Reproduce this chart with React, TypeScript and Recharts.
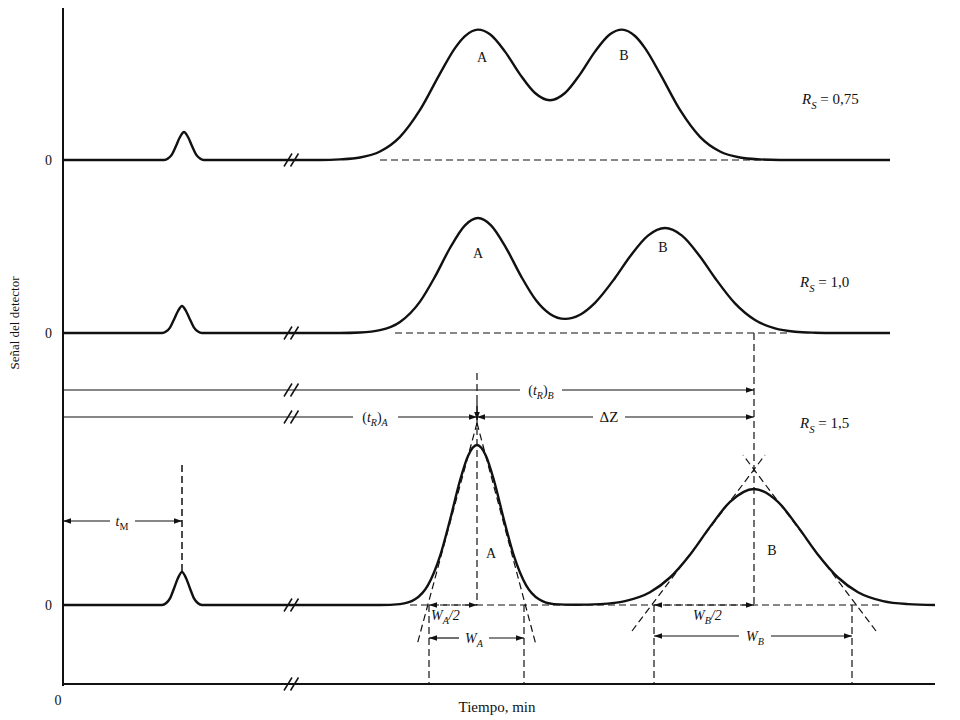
import React from 'react';
import { ComposedChart, Line, XAxis, YAxis, ReferenceLine, ReferenceDot } from 'recharts';

const FONT = '"Liberation Serif", "Times New Roman", "DejaVu Serif", serif';
const INK = '#111';

// Baseline (zero signal) of each stacked chromatogram, in signal units
const BASE_TOP = 52.6;
const BASE_MID = 35.3;
const BASE_BOT = 8.1;

// Top chromatogram (Rs = 0,75): time, signal above baseline
const TOP_T = [0, 10.1, 10.5, 10.9, 11.3, 11.7, 12.1, 12.5, 12.9, 13.3, 13.7, 14.1, 25.7,
  27.7, 29.7, 31.7, 33.7, 35.7, 37.7, 39.2, 40.2, 41.5, 42.7, 44.2, 45.7, 47.2, 48.7, 50.2,
  51.7, 53.2, 54.7, 55.9, 57.2, 58.2, 59.7, 61.7, 63.7, 65.7, 67.7, 69.7, 71.7, 82.7];
const TOP_S = [0, 0, 0.14, 0.56, 1.4, 2.3, 2.8, 2.3, 1.4, 0.56, 0.14, 0, 0,
  0.06, 0.25, 0.85, 2.32, 5.01, 8.64, 11.19, 12.39, 13.04, 12.57, 10.84, 8.56, 6.7, 5.98, 6.7,
  8.56, 10.84, 12.57, 13.04, 12.4, 11.19, 8.64, 5.01, 2.32, 0.85, 0.25, 0.06, 0, 0];

// Middle chromatogram (Rs = 1,0)
const MID_T = [0, 9.9, 10.3, 10.7, 11.1, 11.5, 11.9, 12.3, 12.7, 13.1, 13.5, 13.9, 27.7,
  29.7, 31.7, 33.7, 35.7, 37.2, 38.7, 40.2, 41.5, 42.8, 44.3, 45.8, 47.3, 48.7, 50.2, 51.7,
  53.2, 55.2, 56.7, 58.5, 60.2, 61.9, 63.7, 65.2, 67.2, 69.2, 71.2, 73.2, 75.2, 77.2, 82.7];
const MID_S = [0, 0, 0.14, 0.54, 1.35, 2.2, 2.7, 2.2, 1.35, 0.54, 0.14, 0, 0,
  0.05, 0.28, 1.1, 3.14, 5.64, 8.5, 10.77, 11.5, 10.77, 8.52, 5.69, 3.28, 1.91, 1.41, 1.83,
  3.02, 5.5, 7.65, 9.74, 10.5, 9.74, 7.65, 5.5, 2.96, 1.3, 0.46, 0.13, 0.03, 0, 0];

// Bottom chromatogram (Rs = 1,5)
const BOT_T = [0, 9.9, 10.3, 10.7, 11.1, 11.5, 11.9, 12.3, 12.7, 13.1, 13.5, 13.9, 31.7,
  33.7, 35.2, 36.5, 37.7, 38.7, 39.7, 40.5, 41.4, 42.3, 43.1, 44.1, 45.1, 46.3, 47.6, 49.1,
  51.2, 53.7, 56.2, 58.7, 60.7, 62.7, 64.7, 66.7, 69.1, 71.5, 73.5, 75.5, 77.5, 79.5, 82.0,
  84.5, 87.2];
const BOT_S = [0, 0, 0.17, 0.66, 1.65, 2.7, 3.3, 2.7, 1.65, 0.66, 0.17, 0, 0,
  0.09, 0.57, 1.99, 4.88, 8.5, 12.45, 14.91, 16.0, 14.91, 12.45, 8.5, 4.88, 1.99, 0.57, 0.09,
  0.02, 0.09, 0.39, 1.28, 2.75, 5.03, 7.81, 10.31, 11.6, 10.31, 7.81, 5.03, 2.75, 1.28, 0.39,
  0.09, 0];

// Characteristic times
const T_M = 11.9;
const T_RA = 41.4;
const T_RB = 69.1;
const WA_LEFT = 36.6;
const WA_RIGHT = 46.1;
const WB_LEFT = 59.1;
const WB_RIGHT = 78.9;
const BREAK_T = 22.8;

const toSeries = (ts: number[], ss: number[], base: number) =>
  ts.map((t, i) => ({ t, v: base + ss[i] }));

const topData = toSeries(TOP_T, TOP_S, BASE_TOP);
const midData = toSeries(MID_T, MID_S, BASE_MID);
const botData = toSeries(BOT_T, BOT_S, BASE_BOT);

type Seg = { a: [number, number]; b: [number, number]; dashed?: boolean; start?: boolean; end?: boolean; w?: number };

const AXIS_Y = 0.2;
const Y_TRB = 29.6;
const Y_TRA = 26.9;
const Y_TM = 16.5;

const SEGMENTS: Seg[] = [
  // time axis
  { a: [0, AXIS_Y], b: [87.2, AXIS_Y], w: 1.8 },
  // t_M
  { a: [0, Y_TM], b: [4.7, Y_TM], start: true },
  { a: [7.2, Y_TM], b: [T_M, Y_TM], end: true },
  { a: [T_M, 22.1], b: [T_M, 11.3], dashed: true, w: 1.5 },
  // (t_R)_B
  { a: [0, Y_TRB], b: [45.7, Y_TRB] },
  { a: [49.9, Y_TRB], b: [T_RB, Y_TRB], end: true },
  // (t_R)_A
  { a: [0, Y_TRA], b: [29.0, Y_TRA] },
  { a: [33.5, Y_TRA], b: [T_RA, Y_TRA], end: true },
  // ΔZ
  { a: [T_RA, Y_TRA], b: [53.0, Y_TRA], start: true },
  { a: [56.2, Y_TRA], b: [T_RB, Y_TRA], end: true },
  // vertical markers
  { a: [T_RA, 31.3], b: [T_RA, BASE_BOT], dashed: true },
  { a: [T_RA, 28.4], b: [T_RA, 26.6], end: true },
  { a: [T_RB, BASE_MID], b: [T_RB, BASE_BOT], dashed: true },
  // dashed baselines
  { a: [31.7, BASE_TOP], b: [70.7, BASE_TOP], dashed: true },
  { a: [33.2, BASE_MID], b: [72.7, BASE_MID], dashed: true },
  { a: [34.7, BASE_BOT], b: [81.7, BASE_BOT], dashed: true },
  // tangents peak A
  { a: [T_RA, 26.3], b: [35.4, 4.1], dashed: true },
  { a: [T_RA, 26.3], b: [47.3, 4.1], dashed: true },
  // tangents peak B
  { a: [56.9, 5.5], b: [70.2, 23.1], dashed: true },
  { a: [81.3, 5.5], b: [68.0, 23.1], dashed: true },
  // width drops
  { a: [WA_LEFT, BASE_BOT], b: [WA_LEFT, AXIS_Y], dashed: true },
  { a: [WA_RIGHT, BASE_BOT], b: [WA_RIGHT, AXIS_Y], dashed: true },
  { a: [WB_LEFT, BASE_BOT], b: [WB_LEFT, AXIS_Y], dashed: true },
  { a: [WB_RIGHT, BASE_BOT], b: [WB_RIGHT, AXIS_Y], dashed: true },
  // W arrows
  { a: [WA_LEFT, 4.8], b: [39.6, 4.8], start: true },
  { a: [42.6, 4.8], b: [WA_RIGHT, 4.8], end: true },
  { a: [WB_LEFT, 5.0], b: [67.6, 5.0], start: true },
  { a: [70.8, 5.0], b: [WB_RIGHT, 5.0], end: true },
  // half widths
  { a: [WA_LEFT, BASE_BOT], b: [T_RA, BASE_BOT], start: true, end: true, dashed: true },
  { a: [WB_LEFT, BASE_BOT], b: [T_RB, BASE_BOT], start: true, end: true, dashed: true },
];

const BREAK_YS = [BASE_TOP, BASE_MID, Y_TRB, Y_TRA, BASE_BOT, AXIS_Y];

type Part = { s: string; i?: boolean; sub?: boolean };
type Lab = { t: number; y: number; parts: Part[]; size?: number; anchor?: 'start' | 'middle' | 'end'; rotate?: number };

const LABELS: Lab[] = [
  { t: -0.5, y: -1.4, parts: [{ s: '0' }], size: 14 },
  { t: 43.4, y: -2.1, parts: [{ s: 'Tiempo, min' }], size: 15 },
  { t: -4.9, y: 36.3, parts: [{ s: 'Señal del detector' }], size: 13, rotate: -90 },
  { t: 5.9, y: Y_TM, parts: [{ s: 't', i: true }, { s: 'M', sub: true }] },
  { t: 47.8, y: Y_TRB, parts: [{ s: '(' }, { s: 't', i: true }, { s: 'R', i: true, sub: true }, { s: ')' }, { s: 'B', i: true, sub: true }] },
  { t: 31.2, y: Y_TRA, parts: [{ s: '(' }, { s: 't', i: true }, { s: 'R', i: true, sub: true }, { s: ')' }, { s: 'A', i: true, sub: true }] },
  { t: 54.6, y: Y_TRA, parts: [{ s: 'ΔZ' }], size: 15 },
  { t: 73.9, y: 58.7, parts: [{ s: 'R', i: true }, { s: 'S', i: true, sub: true }, { s: ' = 0,75' }], size: 15, anchor: 'start' },
  { t: 73.7, y: 40.4, parts: [{ s: 'R', i: true }, { s: 'S', i: true, sub: true }, { s: ' = 1,0' }], size: 15, anchor: 'start' },
  { t: 73.7, y: 26.3, parts: [{ s: 'R', i: true }, { s: 'S', i: true, sub: true }, { s: ' = 1,5' }], size: 15, anchor: 'start' },
  { t: 41.9, y: 62.9, parts: [{ s: 'A' }] },
  { t: 56.1, y: 63.1, parts: [{ s: 'B' }] },
  { t: 41.5, y: 43.3, parts: [{ s: 'A' }] },
  { t: 60.0, y: 43.9, parts: [{ s: 'B' }] },
  { t: 42.8, y: 13.3, parts: [{ s: 'A' }] },
  { t: 70.9, y: 13.6, parts: [{ s: 'B' }] },
  { t: 36.8, y: 7.1, parts: [{ s: 'W', i: true }, { s: 'A', i: true, sub: true }, { s: '/2', i: true }], anchor: 'start' },
  { t: 63.0, y: 7.1, parts: [{ s: 'W', i: true }, { s: 'B', i: true, sub: true }, { s: '/2', i: true }], anchor: 'start' },
  { t: 41.1, y: 4.8, parts: [{ s: 'W', i: true }, { s: 'A', i: true, sub: true }] },
  { t: 69.2, y: 5.0, parts: [{ s: 'W', i: true }, { s: 'B', i: true, sub: true }] },
];

const head = (x: number, y: number, dx: number, dy: number, key: string) => {
  const L = 8;
  const W = 2.8;
  const bx = x - dx * L;
  const by = y - dy * L;
  return (
    <polygon
      key={key}
      points={`${x},${y} ${bx - dy * W},${by + dx * W} ${bx + dy * W},${by - dx * W}`}
      fill={INK}
    />
  );
};

const segShape = (seg: Seg) => (p: any) => {
  const x1 = Number(p.x1);
  const y1 = Number(p.y1);
  const x2 = Number(p.x2);
  const y2 = Number(p.y2);
  const len = Math.hypot(x2 - x1, y2 - y1) || 1;
  const ux = (x2 - x1) / len;
  const uy = (y2 - y1) / len;
  return (
    <g>
      <line
        x1={x1}
        y1={y1}
        x2={x2}
        y2={y2}
        stroke={INK}
        strokeWidth={seg.w ?? 1.2}
        strokeDasharray={seg.dashed ? '7 4' : undefined}
      />
      {seg.end ? head(x2, y2, ux, uy, 'e') : null}
      {seg.start ? head(x1, y1, -ux, -uy, 's') : null}
    </g>
  );
};

const richShape = (lab: Lab) => (p: any) => {
  const size = lab.size ?? 14;
  let shift = 0;
  const spans = lab.parts.map((part, k) => {
    const target = part.sub ? size * 0.3 : 0;
    const dy = target - shift;
    shift = target;
    return (
      <tspan
        key={k}
        dy={dy}
        fontStyle={part.i ? 'italic' : 'normal'}
        fontSize={part.sub ? size * 0.72 : size}
      >
        {part.s}
      </tspan>
    );
  });
  const cx = Number(p.cx);
  const cy = Number(p.cy);
  return (
    <text
      x={cx}
      y={cy + size * 0.35}
      textAnchor={lab.anchor ?? 'middle'}
      fontFamily={FONT}
      fontSize={size}
      fill={INK}
      transform={lab.rotate ? `rotate(${lab.rotate}, ${cx}, ${cy})` : undefined}
    >
      {spans}
    </text>
  );
};

const breakShape = (p: any) => (
  <line x1={p.x1} y1={p.y1} x2={p.x2} y2={p.y2} stroke={INK} strokeWidth={1.5} />
);

export default function App() {
  return (
    <ComposedChart width={944} height={712} margin={{ top: 0, right: 9, bottom: 34, left: 0 }}>
      <XAxis type="number" dataKey="t" domain={[0, 88]} hide allowDataOverflow />
      <YAxis
        type="number"
        domain={[0, 67.8]}
        ticks={[BASE_BOT, BASE_MID, BASE_TOP]}
        tickFormatter={() => '0'}
        tickLine={false}
        tickSize={6}
        tickMargin={5}
        axisLine={{ stroke: INK, strokeWidth: 2 }}
        tick={{ fill: INK, fontSize: 14, fontFamily: FONT }}
        width={55}
        allowDataOverflow
      />
      {SEGMENTS.map((seg, i) => (
        <ReferenceLine
          key={`seg${i}`}
          segment={[{ x: seg.a[0], y: seg.a[1] }, { x: seg.b[0], y: seg.b[1] }]}
          shape={segShape(seg)}
          ifOverflow="visible"
        />
      ))}
      {BREAK_YS.flatMap((y, i) => [
        <ReferenceLine
          key={`b${i}a`}
          segment={[{ x: BREAK_T - 0.7, y: y - 0.65 }, { x: BREAK_T + 0.1, y: y + 0.65 }]}
          shape={breakShape}
          ifOverflow="visible"
        />,
        <ReferenceLine
          key={`b${i}b`}
          segment={[{ x: BREAK_T - 0.05, y: y - 0.65 }, { x: BREAK_T + 0.75, y: y + 0.65 }]}
          shape={breakShape}
          ifOverflow="visible"
        />,
      ])}
      <Line data={topData} dataKey="v" type="monotone" dot={false} activeDot={false} stroke={INK} strokeWidth={2.4} isAnimationActive={false} />
      <Line data={midData} dataKey="v" type="monotone" dot={false} activeDot={false} stroke={INK} strokeWidth={2.4} isAnimationActive={false} />
      <Line data={botData} dataKey="v" type="monotone" dot={false} activeDot={false} stroke={INK} strokeWidth={2.4} isAnimationActive={false} />
      {LABELS.map((lab, i) => (
        <ReferenceDot key={`l${i}`} x={lab.t} y={lab.y} r={0} shape={richShape(lab)} ifOverflow="visible" />
      ))}
    </ComposedChart>
  );
}
